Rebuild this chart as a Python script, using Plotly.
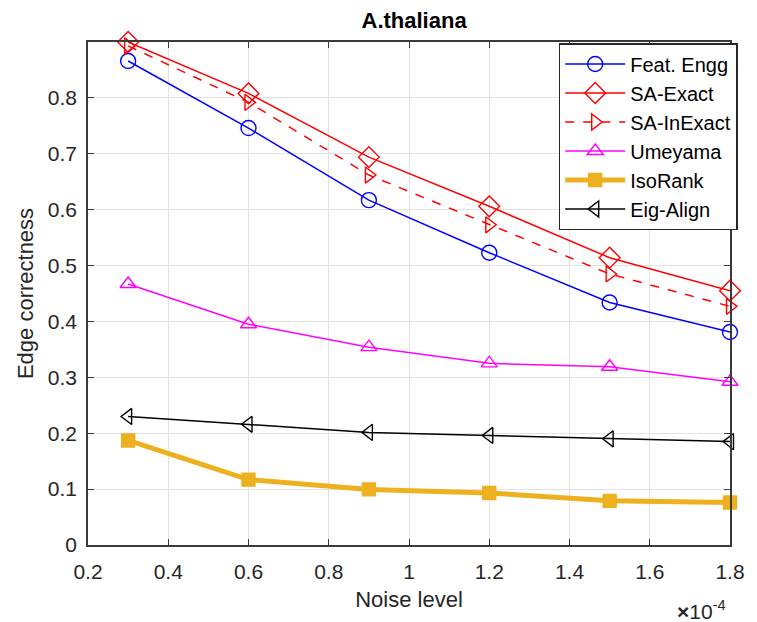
import plotly.graph_objects as go

noise = [0.3, 0.6, 0.9, 1.2, 1.5, 1.8]
feat_engg = [0.866, 0.746, 0.617, 0.523, 0.434, 0.381]
sa_exact = [0.900, 0.808, 0.694, 0.606, 0.514, 0.455]
sa_inexact = [0.893, 0.792, 0.662, 0.573, 0.485, 0.427]
umeyama = [0.467, 0.395, 0.354, 0.325, 0.319, 0.292]
isorank = [0.187, 0.117, 0.0995, 0.093, 0.079, 0.076]
eig_align = [0.230, 0.216, 0.2015, 0.196, 0.190, 0.185]

x_ticks = [0.2, 0.4, 0.6, 0.8, 1.0, 1.2, 1.4, 1.6, 1.8]
x_ticklabels = ["0.2", "0.4", "0.6", "0.8", "1", "1.2", "1.4", "1.6", "1.8"]
y_ticks = [0, 0.1, 0.2, 0.3, 0.4, 0.5, 0.6, 0.7, 0.8]
y_ticklabels = ["0", "0.1", "0.2", "0.3", "0.4", "0.5", "0.6", "0.7", "0.8"]

series = [
    ("Feat. Engg", feat_engg, "#0000FF", "solid", 1.5, "circle-open", 15),
    ("SA-Exact", sa_exact, "#FF0000", "solid", 1.5, "diamond-open", 16),
    ("SA-InExact", sa_inexact, "#FF0000", "dash", 1.5, "triangle-right-open", 14),
    ("Umeyama", umeyama, "#FF00FF", "solid", 1.5, "triangle-up-open", 14),
    ("IsoRank", isorank, "#EDB120", "solid", 5, "square", 13),
    ("Eig-Align", eig_align, "#000000", "solid", 1.5, "triangle-left-open", 14),
]

FONT = "Liberation Sans, Arial, sans-serif"

fig = go.Figure()
for name, vals, color, dash, lw, sym, ms in series:
    fig.add_trace(go.Scatter(
        x=noise, y=vals, name=name, mode="lines+markers",
        line=dict(color=color, width=lw, dash=dash),
        marker=dict(symbol=sym, size=ms, color=color,
                    line=dict(color=color, width=1.4)),
        cliponaxis=False, hoverinfo="skip",
    ))

axis_common = dict(
    showline=True, linecolor="#3a3a3a", linewidth=1.5, mirror="ticks",
    ticks="inside", ticklen=6, tickcolor="#3a3a3a", tickwidth=1,
    showgrid=True, gridcolor="#E2E2E2", gridwidth=1, zeroline=False,
    tickfont=dict(family=FONT, size=21, color="#262626"),
)

fig.update_layout(
    width=757, height=622,
    margin=dict(l=88, r=18, t=42, b=77),
    paper_bgcolor="white", plot_bgcolor="white",
    title=dict(text="<b>A.thaliana</b>", x=0.547, xanchor="center", y=0.968, yanchor="middle",
               font=dict(family=FONT, size=22, color="black")),
    xaxis=dict(range=[0.2, 1.8], tickvals=x_ticks, ticktext=x_ticklabels,
               ticklabelstandoff=7,
               title=dict(text="Noise level", standoff=10,
                          font=dict(family=FONT, size=22, color="#262626")),
               **axis_common),
    yaxis=dict(range=[0, 0.9], tickvals=y_ticks, ticktext=y_ticklabels,
               ticklabelstandoff=5,
               title=dict(text="Edge correctness", standoff=8,
                          font=dict(family=FONT, size=22, color="#262626")),
               **axis_common),
    legend=dict(x=1.012, xanchor="right", y=0.998, yanchor="top",
                bgcolor="white", bordercolor="#262626", borderwidth=1.5,
                font=dict(family=FONT, size=20, color="black"),
                itemwidth=60),
    showlegend=True,
)

fig.add_annotation(
    text="<b>×</b>10<sup>-4</sup>", xref="paper", yref="paper",
    x=0.997, xanchor="right", y=-0.13, yanchor="middle", showarrow=False,
    font=dict(family=FONT, size=21, color="#262626"),
)

fig.write_html("out.html")
